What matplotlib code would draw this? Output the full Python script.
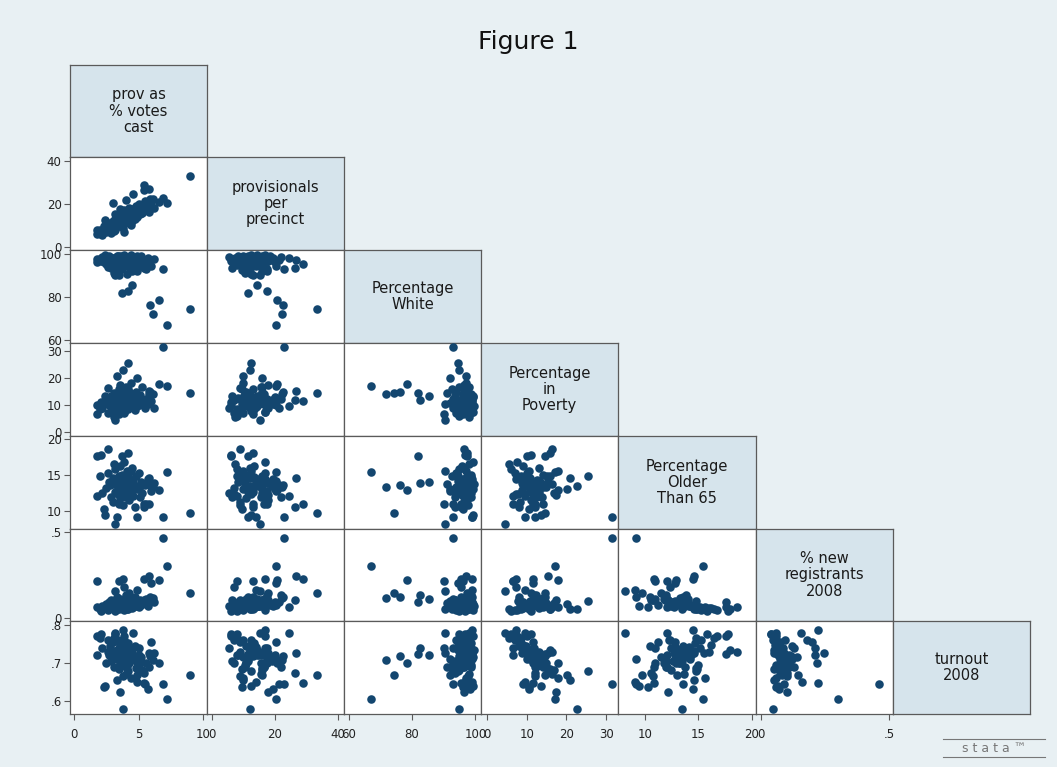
import matplotlib.pyplot as plt
from matplotlib.lines import Line2D

# one value per county, same order in every list
prov_pct = [9.0, 7.2, 6.9, 6.1, 5.9, 6.6, 3.7, 4.2, 4.5, 3.8,
            3.8, 3.2, 1.8, 1.8, 2.6, 4.2, 4.2, 4.9, 5.4, 5.8,
            5.4, 4.6, 2.0, 2.2, 2.3, 2.5, 2.6, 2.7, 2.8, 2.9,
            3.0, 3.0, 3.1, 3.2, 3.2, 3.3, 3.3, 3.4, 3.4, 3.5,
            3.5, 3.6, 3.6, 3.6, 3.7, 3.7, 3.8, 3.8, 3.9, 3.9,
            4.0, 4.0, 4.0, 4.1, 4.1, 4.2, 4.3, 4.3, 4.4, 4.5,
            4.5, 4.6, 4.7, 4.8, 4.8, 4.9, 5.0, 5.0, 5.1, 5.2,
            5.3, 5.5, 5.6, 5.7, 5.8, 6.0, 6.2, 2.1, 3.1, 3.5,
            4.0, 4.4, 3.9, 2.4, 3.0, 3.3, 3.6]

prov_per_precinct = [33.3, 20.3, 22.8, 22.2, 22.5, 20.8, 11.5, 17.4, 14.4, 12.2,
                     16.9, 15.3, 8.0, 6.0, 9.0, 13.0, 12.4, 16.0, 29.0, 26.8,
                     26.5, 24.5, 8.0, 5.5, 9.5, 7.0, 10.0, 8.5, 11.0, 6.5,
                     12.0, 9.0, 10.5, 13.0, 8.0, 11.5, 14.0, 10.0, 12.5, 9.5,
                     15.0, 11.0, 13.5, 16.0, 12.0, 10.5, 14.5, 9.0, 13.0, 17.0,
                     11.5, 14.0, 15.5, 12.5, 16.5, 13.5, 11.0, 18.0, 14.5, 12.0,
                     17.5, 15.0, 13.0, 19.0, 16.0, 14.0, 20.0, 17.0, 15.5, 18.5,
                     16.0, 21.5, 17.5, 19.5, 16.5, 20.5, 18.0, 6.0, 7.5, 13.0,
                     22.0, 10.0, 7.0, 12.5, 20.5, 10.0, 17.8]

pct_white = [74.2, 66.9, 93.1, 71.8, 76.3, 78.3, 81.8, 82.5, 85.3, 95.0,
             98.9, 90.3, 96.0, 97.5, 96.5, 97.5, 94.4, 92.0, 95.5, 97.0,
             93.5, 98.0, 97.8, 98.5, 96.0, 95.5, 94.0, 99.0, 97.0, 93.5,
             98.0, 96.5, 91.0, 97.5, 95.0, 98.8, 94.5, 99.2, 96.8, 92.5,
             98.2, 97.0, 95.8, 99.0, 93.0, 98.5, 96.2, 97.8, 94.8, 99.3,
             97.2, 95.2, 98.0, 90.5, 96.5, 98.6, 94.0, 97.5, 99.5, 96.0,
             92.0, 98.3, 95.5, 97.2, 93.8, 98.9, 96.4, 94.2, 97.8, 99.0,
             95.0, 97.0, 92.8, 98.2, 96.0, 94.5, 97.5, 96.8, 98.0, 90.0,
             98.7, 97.0, 95.6, 99.4, 96.2, 97.0, 96.5]

pct_poverty = [14.6, 17.1, 31.6, 14.1, 14.7, 17.8, 14.6, 11.8, 13.4, 22.8,
               7.4, 4.5, 6.5, 10.0, 16.3, 15.9, 25.5, 20.2, 11.5, 15.3,
               12.0, 9.5, 8.5, 9.0, 10.5, 11.8, 7.0, 12.5, 9.8, 13.5,
               10.8, 8.2, 14.5, 11.2, 6.0, 12.0, 9.5, 13.0, 7.8, 15.8,
               10.2, 11.5, 9.0, 12.8, 8.8, 14.0, 10.0, 12.2, 11.0, 7.5,
               13.2, 9.2, 16.5, 10.5, 12.0, 8.5, 14.8, 11.2, 9.8, 13.0,
               10.8, 12.5, 8.0, 11.8, 15.0, 9.5, 12.8, 10.0, 13.8, 11.0,
               16.8, 9.0, 12.2, 10.5, 14.2, 11.5, 8.8, 11.0, 5.5, 6.5,
               12.3, 18.0, 7.2, 13.5, 10.0, 20.8, 17.4]

pct_older = [9.7, 15.4, 9.2, 13.3, 13.6, 12.9, 17.6, 13.9, 14.0, 13.5,
             14.5, 8.2, 12.1, 17.6, 18.6, 18.0, 14.8, 13.0, 10.9, 14.6,
             10.6, 12.1, 14.8, 12.5, 10.3, 13.2, 15.3, 14.0, 13.6, 12.0,
             14.6, 11.2, 13.8, 12.7, 15.8, 9.2, 14.2, 13.0, 12.3, 14.9,
             13.4, 11.8, 16.2, 13.9, 12.9, 15.0, 14.4, 10.8, 13.1, 16.8,
             12.6, 14.1, 13.7, 15.5, 12.1, 14.7, 13.3, 11.5, 13.8, 16.0,
             12.8, 14.3, 10.5, 13.5, 14.8, 9.1, 13.0, 15.2, 11.9, 14.0,
             12.5, 13.6, 11.0, 14.5, 10.9, 12.8, 13.9, 17.8, 16.5, 11.0,
             12.0, 15.6, 12.4, 9.5, 14.2, 14.6, 12.2]

new_reg = [0.145, 0.300, 0.460, 0.115, 0.117, 0.218, 0.090, 0.130, 0.110, 0.047,
           0.224, 0.157, 0.212, 0.060, 0.060, 0.050, 0.097, 0.080, 0.224, 0.244,
           0.100, 0.060, 0.050, 0.070, 0.060, 0.080, 0.045, 0.090, 0.065, 0.100,
           0.055, 0.075, 0.085, 0.060, 0.040, 0.120, 0.070, 0.080, 0.095, 0.050,
           0.065, 0.110, 0.055, 0.075, 0.085, 0.060, 0.070, 0.100, 0.080, 0.045,
           0.090, 0.065, 0.075, 0.050, 0.110, 0.060, 0.085, 0.140, 0.070, 0.055,
           0.095, 0.065, 0.120, 0.080, 0.070, 0.160, 0.090, 0.060, 0.100, 0.075,
           0.085, 0.090, 0.110, 0.070, 0.100, 0.200, 0.090, 0.040, 0.050, 0.210,
           0.130, 0.060, 0.180, 0.065, 0.075, 0.050, 0.100]

turnout = [0.668, 0.605, 0.645, 0.708, 0.718, 0.699, 0.723, 0.739, 0.721, 0.578,
           0.787, 0.779, 0.720, 0.770, 0.728, 0.735, 0.680, 0.668, 0.647, 0.726,
           0.674, 0.779, 0.765, 0.740, 0.637, 0.700, 0.760, 0.720, 0.745, 0.705,
           0.730, 0.755, 0.690, 0.725, 0.775, 0.710, 0.735, 0.715, 0.760, 0.685,
           0.728, 0.700, 0.748, 0.722, 0.740, 0.695, 0.730, 0.665, 0.718, 0.770,
           0.705, 0.742, 0.672, 0.725, 0.690, 0.752, 0.700, 0.715, 0.735, 0.728,
           0.710, 0.722, 0.745, 0.705, 0.688, 0.650, 0.720, 0.738, 0.700, 0.715,
           0.682, 0.645, 0.700, 0.632, 0.690, 0.755, 0.725, 0.775, 0.765, 0.740,
           0.690, 0.660, 0.760, 0.640, 0.710, 0.655, 0.625]

labels = ["prov as\n% votes\ncast", "provisionals\nper\nprecinct", "Percentage\nWhite",
          "Percentage\nin\nPoverty", "Percentage\nOlder\nThan 65",
          "% new\nregistrants\n2008", "turnout\n2008"]

ticks = [[0, 5, 10], [0, 20, 40], [60, 80, 100], [0, 10, 20, 30],
         [10, 15, 20], [0, 0.5], [0.6, 0.7, 0.8]]
tick_labels = [["0", "5", "10"], ["0", "20", "40"], ["60", "80", "100"],
               ["0", "10", "20", "30"], ["10", "15", "20"], ["0", ".5"],
               [".6", ".7", ".8"]]

data = [prov_pct, prov_per_precinct, pct_white, pct_poverty, pct_older, new_reg, turnout]
lims = [(-0.31, 10.31), (-1.5, 42.0), (58.5, 101.8), (-1.5, 33.0),
        (7.5, 20.4), (-0.02, 0.515), (0.566, 0.81)]

W, H = 1057, 767
bg = "#e8f0f3"
diag_fill = "#d6e4ec"
dot = "#13466f"
edge = "#5a5a5a"

xs = [70, 207, 344, 481, 618, 756, 893, 1030]
ys = [65, 157, 250, 343, 436, 529, 621, 714]

fig = plt.figure(figsize=(W / 100, H / 100), dpi=100, facecolor=bg)
fig.text(528 / W, 1 - 42 / H, "Figure 1", ha="center", va="center", fontsize=18, color="#111111")

n = len(data)
for i in range(n):
    for j in range(i + 1):
        rect = [xs[j] / W, 1 - ys[i + 1] / H, (xs[j + 1] - xs[j]) / W, (ys[i + 1] - ys[i]) / H]
        ax = fig.add_axes(rect)
        for s in ax.spines.values():
            s.set_color(edge)
            s.set_linewidth(0.9)
        if i == j:
            ax.set_facecolor(diag_fill)
            ax.set_xticks([])
            ax.set_yticks([])
            ax.text(0.5, 0.5, labels[i], ha="center", va="center", fontsize=10.5,
                    color="#1a1a1a", linespacing=1.12, transform=ax.transAxes)
            continue
        ax.set_facecolor("white")
        ax.scatter(data[j], data[i], s=38, color=dot, linewidths=0, clip_on=False, zorder=3)
        ax.set_xlim(*lims[j])
        ax.set_ylim(*lims[i])
        ax.tick_params(direction="out", length=4, width=0.8, color=edge,
                       labelsize=8.5, labelcolor="#222222", pad=2)
        if j == 0:
            ax.set_yticks(ticks[i])
            ax.set_yticklabels(tick_labels[i])
        else:
            ax.set_yticks([])
        if i == n - 1:
            ax.set_xticks(ticks[j])
            ax.set_xticklabels(tick_labels[j])
            ax.tick_params(axis="x", pad=6)
        else:
            ax.set_xticks([])

# stata logo
fig.add_artist(Line2D([943 / W, 1045 / W], [1 - 739 / H, 1 - 739 / H], color="#777777", lw=0.8))
fig.add_artist(Line2D([943 / W, 1045 / W], [1 - 757 / H, 1 - 757 / H], color="#777777", lw=0.8))
fig.text(994 / W, 1 - 748 / H, "s t a t a ™", ha="center", va="center", fontsize=9, color="#777777")

fig.savefig("out.png", dpi=100, facecolor=bg)
